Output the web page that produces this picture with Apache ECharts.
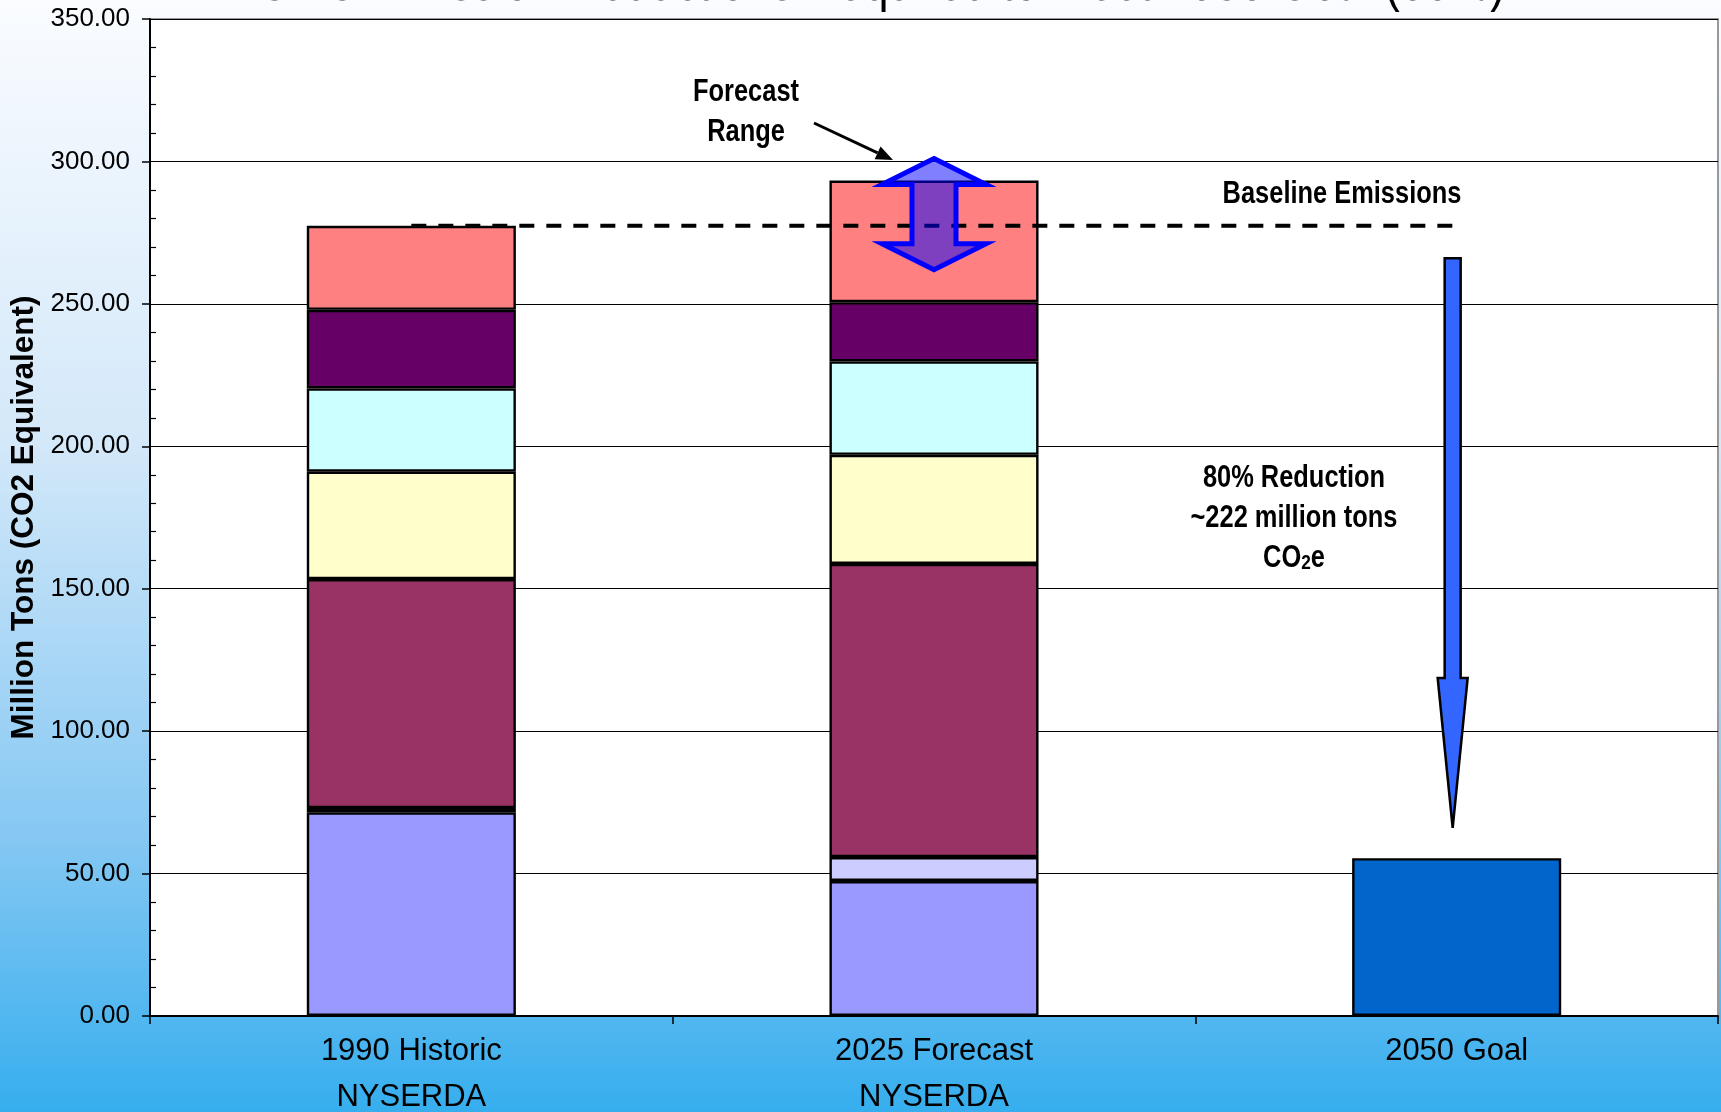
<!DOCTYPE html>
<html>
<head>
<meta charset="utf-8">
<script src="https://cdn.jsdelivr.net/npm/echarts/dist/echarts.min.js"></script>
<style>html,body{margin:0;padding:0;background:#fff;}#main{width:1721px;height:1112px;}</style>
</head>
<body>
<div id="main"></div>
<script>
// ---- data ----
const categories = ['1990 Historic\nNYSERDA', '2025 Forecast\nNYSERDA', '2050 Goal'];
const segmentNames = ['Segment 1', 'Segment 2', 'Segment 3', 'Segment 4', 'Segment 5', 'Segment 6', 'Segment 7'];
const segment1 = [71.5, 47.4, '-'];
const segment2 = [1.5, 8.4, '-'];
const segment3 = [80.4, 102.9, '-'];
const segment4 = [37.7, 38.3, '-'];
const segment5 = [29.2, 32.8, '-'];
const segment6 = [27.6, 20.8, '-'];
const segment7 = [29.5, 42.7, '-'];
const goal2050 = ['-', '-', 55.4];
const baselineEmissions = [277.4, 277.4, 277.4];
const forecastRange = [[1, 262, 301]];      // [category, low, high]
const reductionArrow = [[2, 266, 66]];      // [category, from, to]
const yMin = 0, yMax = 350, yInterval = 50;

// ---- styles ----
const segmentColors = ['#9999FF', '#CCCCFF', '#993366', '#FFFFCC', '#CCFFFF', '#660066', '#FF8080'];
const goalColor = '#0066CC';
const FONT = "'Liberation Sans', Arial, sans-serif";
const NARROW_SCALE = 0.82;

const segmentData = [segment1, segment2, segment3, segment4, segment5, segment6, segment7];
const barBorder = { borderColor: '#000', borderWidth: 2.4 };

const series = segmentData.map((d, i) => ({
  name: segmentNames[i],
  type: 'bar',
  stack: 'total',
  barWidth: '40%',
  data: d,
  itemStyle: Object.assign({ color: segmentColors[i] }, barBorder),
  emphasis: { disabled: true }
}));
series.push({
  name: '2050 Goal',
  type: 'bar',
  stack: 'total',
  barWidth: '40%',
  data: goal2050,
  itemStyle: Object.assign({ color: goalColor }, barBorder),
  emphasis: { disabled: true }
});
series.push({
  name: 'Baseline Emissions',
  type: 'line',
  data: baselineEmissions,
  symbol: 'none',
  z: 4,
  silent: true,
  lineStyle: { color: '#000', width: 4, type: [15, 12] }
});
series.push({
  name: 'Forecast Range',
  type: 'custom',
  data: forecastRange,
  encode: { x: 0, y: [1, 2] },
  z: 6,
  silent: true,
  renderItem: function (params, api) {
    const top = api.coord([api.value(0), api.value(2)]);
    const bot = api.coord([api.value(0), api.value(1)]);
    const cx = top[0];
    const hw = 52, sw = 22, hh = 26;
    const pts = [
      [cx, top[1]], [cx + hw, top[1] + hh], [cx + sw, top[1] + hh],
      [cx + sw, bot[1] - hh], [cx + hw, bot[1] - hh], [cx, bot[1]],
      [cx - hw, bot[1] - hh], [cx - sw, bot[1] - hh], [cx - sw, top[1] + hh],
      [cx - hw, top[1] + hh]
    ];
    return { type: 'polygon', shape: { points: pts },
      style: { fill: 'rgba(0,0,255,0.5)', stroke: '#0000FF', lineWidth: 5, lineJoin: 'miter' } };
  }
});
series.push({
  name: '80% Reduction',
  type: 'custom',
  data: reductionArrow,
  encode: { x: 0, y: [1, 2] },
  z: 6,
  silent: true,
  renderItem: function (params, api) {
    const top = api.coord([api.value(0), api.value(1)]);
    const tip = api.coord([api.value(0), api.value(2)]);
    const cx = top[0] - 4;
    const sw = 8, hw = 15, hl = 150;
    const pts = [
      [cx - sw, top[1]], [cx + sw, top[1]], [cx + sw, tip[1] - hl], [cx + hw, tip[1] - hl],
      [cx, tip[1]], [cx - hw, tip[1] - hl], [cx - sw, tip[1] - hl]
    ];
    return { type: 'polygon', shape: { points: pts },
      style: { fill: '#3366FF', stroke: '#000', lineWidth: 2.5, lineJoin: 'miter' } };
  }
});

const chart = echarts.init(document.getElementById('main'), null, { renderer: 'canvas' });

// pointer arrow geometry for "Forecast Range"
const pA = [814, 123], pB = [893, 160];
const dx = pB[0] - pA[0], dy = pB[1] - pA[1], len = Math.hypot(dx, dy);
const ux = dx / len, uy = dy / len;
const bx = pB[0] - 17 * ux, by = pB[1] - 17 * uy;
const headPts = [pB, [bx - 7 * uy, by + 7 * ux], [bx + 7 * uy, by - 7 * ux]];

const option = {
  animation: false,
  backgroundColor: {
    type: 'linear', x: 0, y: 0, x2: 0, y2: 1,
    colorStops: [
      { offset: 0, color: '#FAFCFF' },
      { offset: 0.4, color: '#D3E8F9' },
      { offset: 0.75, color: '#86C8F3' },
      { offset: 1, color: '#36AEEE' }
    ]
  },
  grid: {
    left: 150, right: 3, top: 19, bottom: 96,
    containLabel: false,
    outerBoundsMode: 'none',
    show: true, backgroundColor: '#FFFFFF', borderColor: '#999', borderWidth: 2
  },
  xAxis: {
    type: 'category',
    data: categories,
    axisLine: { lineStyle: { color: '#000', width: 2 } },
    axisTick: { show: true, length: 8, lineStyle: { color: '#000', width: 1.5 } },
    axisLabel: { color: '#000', fontFamily: FONT, fontSize: 31, lineHeight: 46, margin: 12 },
    splitLine: { show: false }
  },
  yAxis: [{
    type: 'value',
    min: yMin, max: yMax, interval: yInterval,
    name: 'Million Tons (CO2 Equivalent)',
    nameLocation: 'middle',
    nameRotate: 90,
    nameGap: 110,
    nameMoveOverlap: false,
    nameTextStyle: { color: '#000', fontFamily: FONT, fontWeight: 'bold', fontSize: 31.5 },
    axisLine: { show: true, lineStyle: { color: '#000', width: 2 } },
    axisTick: { show: true, length: 8, lineStyle: { color: '#000', width: 1.5 } },
    axisLabel: { color: '#000', fontFamily: FONT, fontSize: 26, margin: 20,
      formatter: v => v.toFixed(2) },
    splitLine: { show: true, lineStyle: { color: '#000', width: 1 } }
  }, {
    type: 'value',
    position: 'left',
    min: yMin, max: yMax, interval: yInterval,
    axisLine: { show: false },
    axisTick: { show: false, inside: true },
    axisLabel: { show: false },
    splitLine: { show: false },
    minorTick: { show: true, splitNumber: 5, length: 6, lineStyle: { color: '#000', width: 1.2 } }
  }],
  series: series,
  graphic: [
    { type: 'text', z: 100, x: 881, y: -15, scaleX: NARROW_SCALE,
      style: { text: 'GHG Emission Reductions Required to Meet 2050 Goal (80%)', fill: '#000',
        font: '55px ' + FONT, align: 'center', verticalAlign: 'middle' } },
    { type: 'text', z: 100, x: 746, y: 112, scaleX: NARROW_SCALE,
      style: { text: 'Forecast\nRange', fill: '#000', font: 'bold 31px ' + FONT,
        lineHeight: 40, align: 'center', verticalAlign: 'middle' } },
    { type: 'line', z: 100, shape: { x1: pA[0], y1: pA[1], x2: bx, y2: by },
      style: { stroke: '#000', lineWidth: 3 } },
    { type: 'polygon', z: 100, shape: { points: headPts }, style: { fill: '#000' } },
    { type: 'text', z: 100, x: 1342, y: 194, scaleX: NARROW_SCALE,
      style: { text: 'Baseline Emissions', fill: '#000', font: 'bold 31px ' + FONT,
        align: 'center', verticalAlign: 'middle' } },
    { type: 'text', z: 100, x: 1294, y: 514, scaleX: NARROW_SCALE,
      style: {
        text: '{a|80% Reduction}\n{a|~222 million tons}\n{a|CO}{s|2}{a|e}',
        align: 'center', verticalAlign: 'middle',
        rich: {
          a: { fontFamily: FONT, fontWeight: 'bold', fontSize: 31, lineHeight: 40, fill: '#000', color: '#000', verticalAlign: 'bottom' },
          s: { fontFamily: FONT, fontWeight: 'bold', fontSize: 21, lineHeight: 21, fill: '#000', color: '#000', verticalAlign: 'bottom' }
        }
      } }
  ]
};
chart.setOption(option);
</script>
</body>
</html>
